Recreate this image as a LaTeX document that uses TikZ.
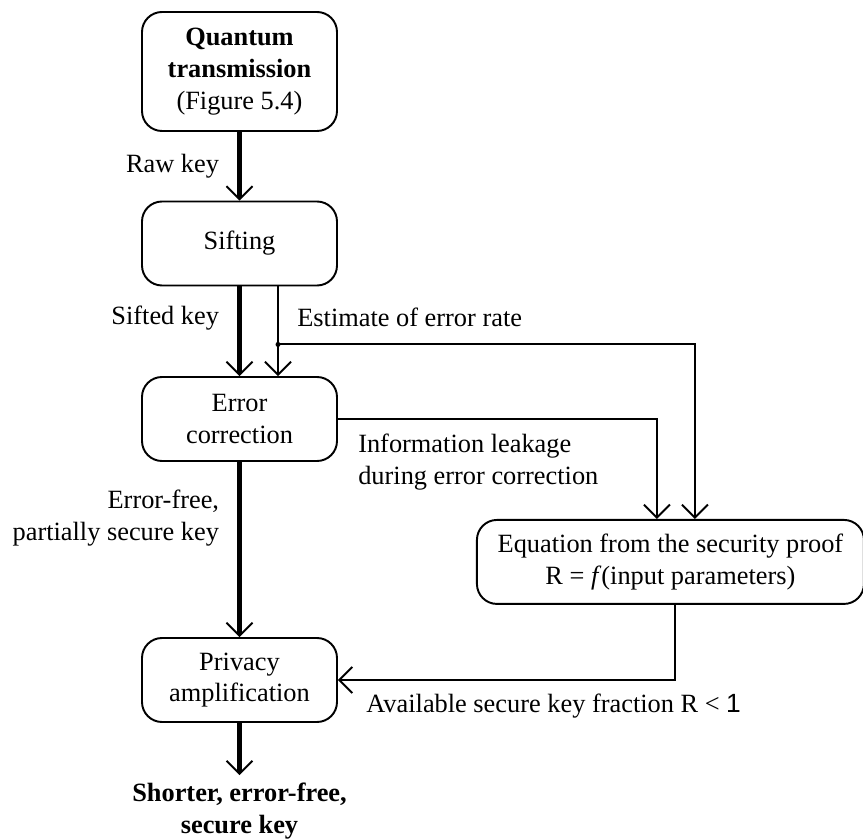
\documentclass[tikz,border=0pt]{standalone}
\usepackage{fontspec}
\setmainfont{Liberation Serif}
\setsansfont{Liberation Sans}
\usetikzlibrary{arrows.meta, positioning}

\begin{document}
\begin{tikzpicture}[
        font=\fontsize{15}{18}\selectfont,
        node distance=2cm, >={Straight Barb[length=0.26cm, width=0.52cm, line width=1.1pt]},
        block/.style={rectangle, draw, line width=1.1pt, align=center, rounded corners=0.4cm, minimum width=3.9cm, minimum height=1.68cm},
        line/.style={draw, line width=2.4pt, ->},
        thinline/.style={draw, line width=1.1pt, ->},
        result/.style={align=center, font=\fontsize{15}{18}\selectfont\bfseries, inner sep=0.15cm},
    ]

    \useasboundingbox (0,0) rectangle (17.26,-16.78);

    % Nodes
    \node [block, minimum height=2.38cm] (quantum) at (4.79,-1.43) {\textbf{Quantum}\\ \textbf{transmission}\\ (Figure 5.4)};
    \node [block, below of=quantum, node distance=3.44cm] (sifting) {Sifting};
    \node [block, below of=sifting, node distance=3.51cm] (error) {Error\\ correction};
    \node [block, below of=error, node distance=5.22cm] (privacy) {Privacy\\ amplification};
    \node [block, minimum width=7.74cm, below right=1.14cm and 2.76cm of error] (proof) {Equation from the security proof\\ R = \textit{f}(input parameters)};
    \node [result, below of=privacy, node distance=2.62cm] (final) {Shorter, error-free,\\ secure key};
    \coordinate [below=1.16cm of sifting.south, xshift=0.77cm] (split);

    % Arrows
    \path [line] (quantum) -- node [left=0.25cm] {Raw key} (sifting);
    \path [line] (sifting) -- node [left=0.25cm, pos=0.35] {Sifted key} (error);
    \path [thinline] ([xshift=0.77cm]sifting.south) -- node [right=0.25cm, pos=0.35] {Estimate of error rate} ([xshift=0.77cm]error.north);
    \path [thinline] (split) -| ([xshift=0.49cm]proof.north);
    \fill (split) circle (0.05cm);
    \path [thinline] (error.east) -| node [below, pos=0.22, align=left, yshift=-0.17cm] {Information leakage\\ during error correction} ([xshift=-0.27cm]proof.north);
    \path [line] (error) -- node [left=0.25cm, pos=0.32, align=right] {Error-free,\\ partially secure key} (privacy);
    \path [thinline] ([xshift=0.09cm]proof.south) |- node [below, pos=0.68, yshift=-0.15cm] {Available secure key fraction R < {\sffamily 1}} (privacy.east);
    \path [line] (privacy) -- (final);

    \end{tikzpicture}
\end{document}
